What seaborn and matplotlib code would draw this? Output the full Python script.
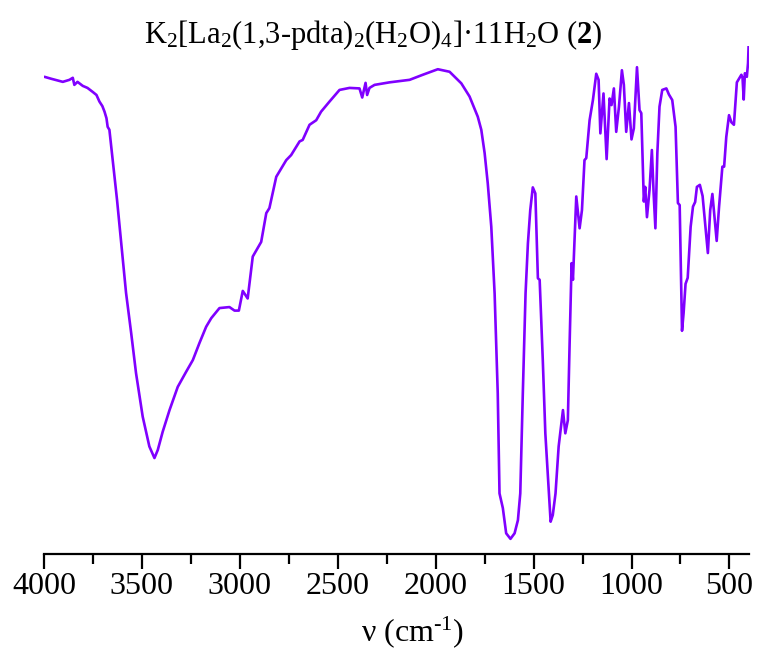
import numpy as np
import pandas as pd
import matplotlib
matplotlib.use("Agg")
import matplotlib.pyplot as plt
import seaborn as sns
from matplotlib.ticker import MultipleLocator

# IR spectrum (wavenumber in cm-1, transmittance in arbitrary %)
wavenumber = [
    3998, 3962, 3904, 3870, 3853, 3845, 3829, 3802, 3778, 3751,
    3732, 3717, 3702, 3691, 3681, 3675, 3666, 3649, 3627, 3606,
    3581, 3555, 3530, 3496, 3462, 3436, 3419, 3394, 3359, 3317,
    3274, 3240, 3206, 3172, 3146, 3104, 3053, 3027, 3005, 2985,
    2960, 2934, 2891, 2865, 2849, 2814, 2763, 2738, 2695, 2679,
    2644, 2610, 2585, 2542, 2491, 2440, 2389, 2375, 2358, 2350,
    2338, 2312, 2236, 2133, 2066, 1989, 1929, 1869, 1827, 1785,
    1767, 1750, 1734, 1716, 1699, 1683, 1674, 1657, 1640, 1618,
    1597, 1580, 1568, 1555, 1541, 1529, 1517, 1504, 1491, 1478,
    1469, 1453, 1440, 1427, 1413, 1402, 1388, 1372, 1350, 1338,
    1325, 1316, 1306, 1299, 1282, 1265, 1253, 1240, 1231, 1214,
    1197, 1180, 1168, 1159, 1143, 1127, 1112, 1102, 1090, 1078,
    1064, 1049, 1039, 1027, 1013, 1000, 988, 972, 959, 950,
    937, 930, 921, 908, 896, 887, 878, 868, 857, 843,
    822, 809, 792, 775, 763, 754, 742, 734, 724, 713,
    698, 686, 675, 666, 651, 637, 627, 610, 598, 587,
    576, 565, 553, 536, 527, 516, 502, 490, 477, 462,
    439, 433, 427, 421, 411, 405, 402,
]
transmittance = [
    93.9, 93.5, 92.9, 93.3, 93.7, 92.3, 92.9, 92.1, 91.7, 90.9,
    90.3, 89.0, 88.1, 87.0, 85.7, 84.0, 83.4, 77.4, 69.5, 61.0,
    51.1, 43.2, 35.2, 26.6, 20.7, 18.4, 20.0, 23.6, 27.9, 32.5,
    35.5, 37.8, 41.2, 44.4, 46.1, 48.1, 48.3, 47.6, 47.6, 51.5,
    50.0, 58.3, 61.2, 66.9, 67.9, 74.1, 77.4, 78.4, 81.1, 81.4,
    84.4, 85.3, 87.0, 89.0, 91.3, 91.7, 91.6, 89.8, 92.7, 90.3,
    91.7, 92.3, 92.8, 93.3, 94.3, 95.4, 94.9, 92.6, 90.0, 86.0,
    83.4, 78.8, 72.8, 64.2, 51.0, 31.2, 11.4, 8.5, 3.5, 2.4,
    3.5, 6.1, 11.4, 31.2, 51.0, 60.9, 67.5, 72.0, 70.8, 54.0,
    53.7, 37.8, 23.3, 14.7, 5.8, 7.1, 11.4, 20.7, 27.9, 23.3,
    25.9, 41.1, 57.0, 53.7, 70.2, 63.9, 67.5, 77.4, 77.8, 85.3,
    89.3, 94.5, 93.3, 82.7, 90.6, 77.6, 89.6, 88.3, 91.6, 83.0,
    88.0, 95.2, 92.3, 83.0, 88.7, 81.5, 83.7, 95.8, 87.3, 86.7,
    69.2, 72.1, 66.1, 71.5, 79.4, 70.8, 63.9, 78.8, 88.0, 91.3,
    91.6, 90.4, 89.3, 84.0, 68.9, 68.5, 43.6, 47.1, 52.9, 54.1,
    64.2, 68.2, 69.1, 72.1, 72.5, 70.3, 66.2, 59.0, 67.5, 70.7,
    66.1, 61.4, 68.1, 76.1, 76.1, 82.0, 86.3, 84.9, 84.4, 92.8,
    94.3, 93.7, 89.4, 94.6, 93.9, 96.6, 100.0,
]
x_ticks = [4000, 3500, 3000, 2500, 2000, 1500, 1000, 500]

spectrum = pd.DataFrame({"wavenumber": wavenumber, "T": transmittance})

sns.set_theme(style="white")
plt.rcParams["font.family"] = ["Liberation Serif", "DejaVu Serif"]
plt.rcParams["mathtext.fontset"] = "custom"
plt.rcParams["mathtext.rm"] = "Liberation Serif"
plt.rcParams["mathtext.it"] = "Liberation Serif:italic"
plt.rcParams["mathtext.bf"] = "Liberation Serif:bold"
plt.rcParams["text.color"] = "black"
plt.rcParams["xtick.color"] = "black"
plt.rcParams["xtick.labelcolor"] = "black"

fig = plt.figure(figsize=(7.61, 6.59), dpi=100)
ax = fig.add_axes([44 / 761, 1 - 554 / 659, 705 / 761, 508 / 659])

sns.lineplot(data=spectrum, x="wavenumber", y="T", sort=False, estimator=None,
             color="#8000ff", linewidth=1.9, ax=ax)

ax.set_xlim(4000, 400)
ax.set_ylim(-0.6, 100)
ax.set_xticks(x_ticks)
ax.xaxis.set_minor_locator(MultipleLocator(250))
ax.set_yticks([])
ax.set_ylabel("")
ax.set_xlabel("")
for side in ["top", "left", "right"]:
    ax.spines[side].set_visible(False)
ax.spines["bottom"].set_linewidth(1.6)
ax.spines["bottom"].set_color("black")
ax.tick_params(axis="x", which="major", direction="out", length=11, width=1.6,
               labelsize=23, pad=2, bottom=True, colors="black")
ax.tick_params(axis="x", which="minor", direction="out", length=7, width=1.6,
               bottom=True, colors="black")

fig.text(413 / 761, 1 - 632 / 659, r"ν (cm$^{\text{-1}}$)", ha="center", va="center",
         fontsize=23)
fig.text(373 / 761, 1 - 35 / 659,
         r"K$_2$[La$_2$(1,3-pdta)$_2$(H$_2$O)$_4$]·11H$_2$O ($\mathbf{2}$)",
         ha="center", va="center", fontsize=22)

fig.savefig("out.png", dpi=100)
